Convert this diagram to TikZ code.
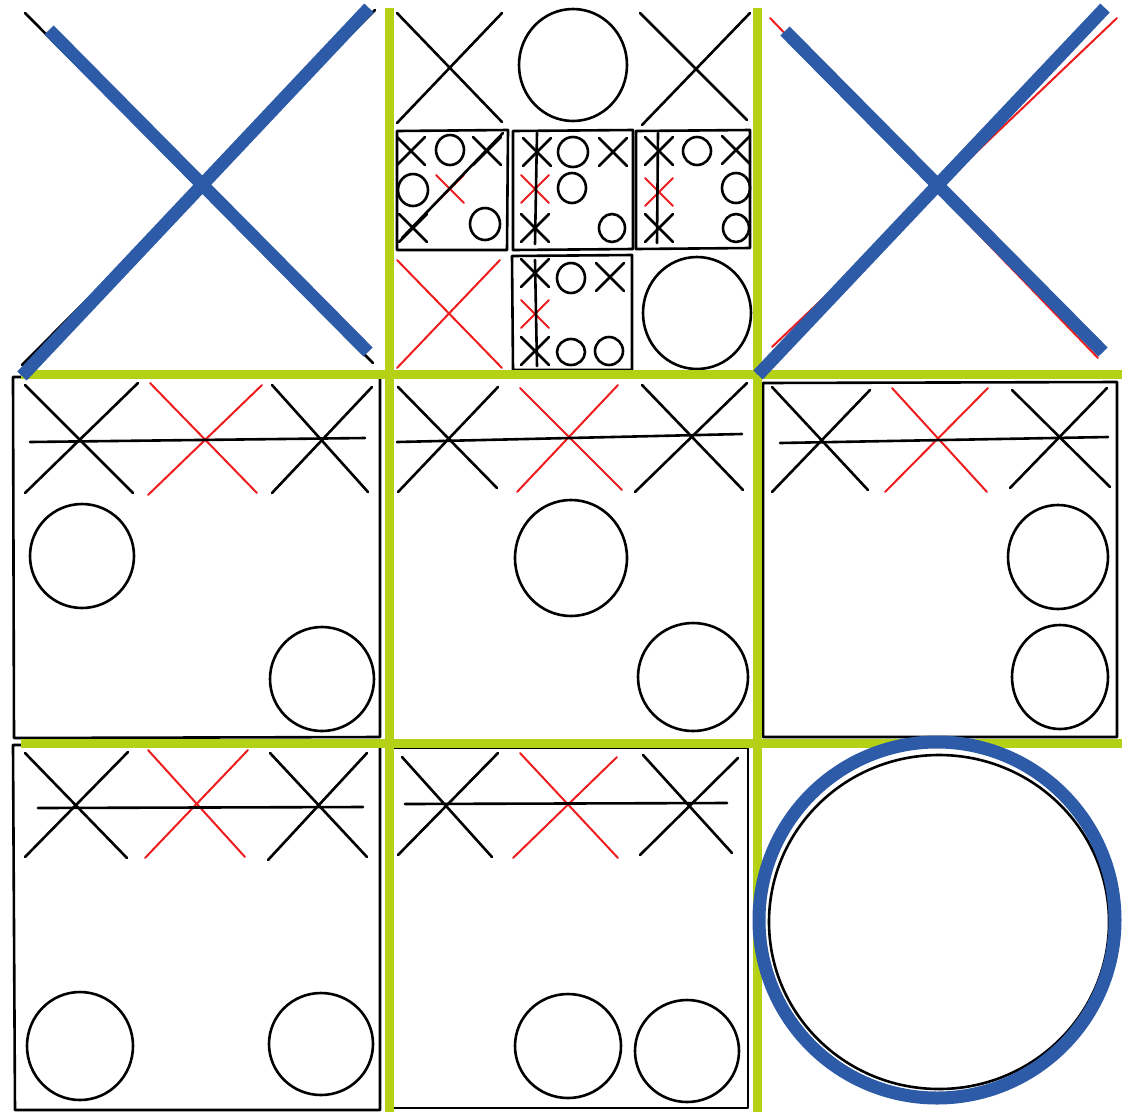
\documentclass[tikz,border=0pt]{standalone}
\usepackage{tikz}
\usetikzlibrary{calc}
\definecolor{gridgreen}{RGB}{180,209,22}
\definecolor{winblue}{RGB}{45,91,168}
\definecolor{markred}{RGB}{238,28,28}

\begin{document}
\begin{tikzpicture}[
  x=1pt, y=-1pt,
  pen/.style={draw=black, line width=2.6pt, line cap=round, line join=round},
  redpen/.style={draw=markred, line width=2pt, line cap=round},
  grid/.style={draw=gridgreen, line width=9pt},
  win/.style={draw=winblue, line width=13pt},
  minix/.pic={\draw (-14,-14) -- (14,14) (14,-14) -- (-14,14);}
]
\useasboundingbox (0,0) rectangle (1122,1112);

% top left
\draw[pen] (25,13) -- (373,363);
\draw[pen] (22,365) -- (375,10);

% top middle
\draw[pen] (397,13) -- (502,122);
\draw[pen] (502,13) -- (397,123);
\draw[pen] (573,65) ellipse [x radius=54pt, y radius=56pt];
\draw[pen] (640,13) -- (747,120);
\draw[pen] (750,13) -- (642,125);
\draw[redpen] (397,260) -- (502,368);
\draw[redpen] (500,260) -- (397,368);
\draw[pen] (697,313) ellipse [x radius=54pt, y radius=56pt];

% small board a
\draw[pen] (397,131) -- (508,130) -- (507,250) -- (397,250) -- cycle;
\pic[pen] at (411,151) {minix};
\draw[pen] (450,150) ellipse [x radius=14pt, y radius=15pt];
\pic[pen] at (487,151) {minix};
\draw[pen] (413,190) ellipse [x radius=15pt, y radius=16pt];
\pic[redpen] at (450,189) {minix};
\pic[pen] at (413,228) {minix};
\draw[pen] (485,224) ellipse [x radius=15pt, y radius=16pt];
\draw[pen] (402,238) -- (503,133);

% small board b
\draw[pen] (513,131) -- (633,130) -- (633,249) -- (513,250) -- cycle;
\pic[pen] at (537,152) {minix};
\draw[pen] (573,152) ellipse [x radius=15pt, y radius=15pt];
\pic[pen] at (613,152) {minix};
\pic[redpen] at (535,189) {minix};
\draw[pen] (572,188) ellipse [x radius=14pt, y radius=15pt];
\pic[pen] at (535,228) {minix};
\draw[pen] (612,228) ellipse [x radius=13pt, y radius=14pt];
\draw[pen] (537,133) -- (535,244);

% small board c
\draw[pen] (636,131) -- (750,130) -- (750,248) -- (636,249) -- cycle;
\pic[pen] at (659,151) {minix};
\draw[pen] (697,151) ellipse [x radius=14pt, y radius=14pt];
\pic[pen] at (736,150) {minix};
\pic[redpen] at (659,192) {minix};
\draw[pen] (736,188) ellipse [x radius=14pt, y radius=15pt];
\pic[pen] at (659,228) {minix};
\draw[pen] (736,228) ellipse [x radius=13pt, y radius=14pt];
\draw[pen] (658,133) -- (657,243);

% small board d
\draw[pen] (512,256) -- (632,255) -- (632,370) -- (513,370) -- cycle;
\pic[pen] at (535,273) {minix};
\draw[pen] (571,278) ellipse [x radius=14pt, y radius=15pt];
\pic[pen] at (610,277) {minix};
\pic[redpen] at (535,314) {minix};
\pic[pen] at (535,351) {minix};
\draw[pen] (571,352) ellipse [x radius=14pt, y radius=13pt];
\draw[pen] (609,351) ellipse [x radius=14pt, y radius=14pt];
\draw[pen] (535,260) -- (537,366);

% top right
\draw[redpen] (770,18) -- (1098,358);
\draw[redpen] (1117,18) -- (772,347);

% middle left
\draw[pen] (13,377) -- (380,376) -- (380,737) -- (14,738) -- cycle;
\draw[pen] (25,385) -- (133,493);
\draw[pen] (138,383) -- (25,493);
\draw[redpen] (150,383) -- (257,493);
\draw[redpen] (262,385) -- (148,495);
\draw[pen] (272,385) -- (368,492);
\draw[pen] (372,387) -- (272,493);
\draw[pen] (30,442) -- (365,438);
\draw[pen] (82,556) ellipse [x radius=52pt, y radius=52pt];
\draw[pen] (322,679) ellipse [x radius=52pt, y radius=52pt];

% middle middle
\draw[pen] (398,387) -- (497,488);
\draw[pen] (498,387) -- (398,492);
\draw[redpen] (520,388) -- (622,490);
\draw[redpen] (618,385) -- (517,492);
\draw[pen] (642,385) -- (743,490);
\draw[pen] (747,383) -- (635,492);
\draw[pen] (397,442) -- (742,434);
\draw[pen] (571,558) ellipse [x radius=56pt, y radius=58pt];
\draw[pen] (693,677) ellipse [x radius=55pt, y radius=54pt];

% middle right
\draw[pen] (763,383) -- (1117,382) -- (1117,737) -- (763,737) -- cycle;
\draw[pen] (772,387) -- (868,490);
\draw[pen] (870,390) -- (772,492);
\draw[redpen] (892,388) -- (987,492);
\draw[redpen] (988,388) -- (885,492);
\draw[pen] (1012,390) -- (1110,487);
\draw[pen] (1107,388) -- (1010,488);
\draw[pen] (780,443) -- (1108,437);
\draw[pen] (1058,557) ellipse [x radius=50pt, y radius=52pt];
\draw[pen] (1060,677) ellipse [x radius=48pt, y radius=52pt];

% bottom left
\draw[pen] (13,745) -- (380,745) -- (380,1110) -- (15,1110) -- cycle;
\draw[pen] (25,753) -- (127,858);
\draw[pen] (128,752) -- (25,857);
\draw[redpen] (148,750) -- (245,857);
\draw[redpen] (248,750) -- (145,858);
\draw[pen] (270,753) -- (367,857);
\draw[pen] (367,753) -- (268,860);
\draw[pen] (38,808) -- (363,807);
\draw[pen] (80,1046) ellipse [x radius=53pt, y radius=54pt];
\draw[pen] (321,1044) ellipse [x radius=52pt, y radius=51pt];

% bottom middle
\draw[pen] (392,748) -- (748,748) -- (748,1108) -- (392,1108) -- cycle;
\draw[pen] (402,757) -- (492,857);
\draw[pen] (498,753) -- (398,855);
\draw[redpen] (520,753) -- (618,858);
\draw[redpen] (617,757) -- (513,858);
\draw[pen] (643,755) -- (732,853);
\draw[pen] (738,758) -- (640,855);
\draw[pen] (405,804) -- (727,803);
\draw[pen] (568,1046) ellipse [x radius=53pt, y radius=52pt];
\draw[pen] (687,1051) ellipse [x radius=52pt, y radius=51pt];

% bottom right
\draw[pen] (939,922) ellipse [x radius=170pt, y radius=167pt];

% green board lines
\draw[grid] (389,8) -- (389,1112);
\draw[grid] (757,8) -- (757,1112);
\draw[grid] (21,374) -- (1122,374);
\draw[grid] (21,743) -- (1122,743);

% blue winners
\draw[win] (49,30) -- (368,352);
\draw[win] (22,376) -- (369,8);
\draw[win] (785,31) -- (1103,352);
\draw[win] (758,375) -- (1105,8);
\draw[win] (937,920) circle [radius=178pt];
\end{tikzpicture}
\end{document}
